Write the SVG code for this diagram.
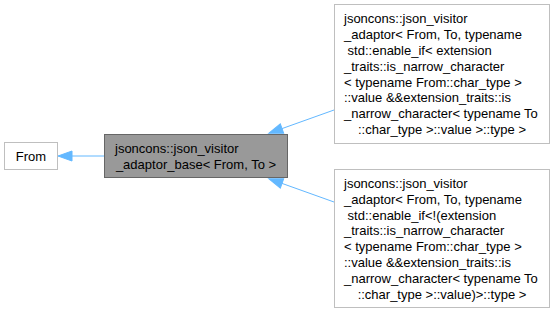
<svg xmlns="http://www.w3.org/2000/svg" width="555" height="312" viewBox="0 0 555 312">
  <style>
    text { font-family: "Liberation Sans", Arial, sans-serif; font-size: 13px; fill: #000; white-space: pre; }
    .box { fill: #ffffff; stroke: #bfbfbf; stroke-width: 1; }
    .cur { fill: #999999; stroke: #666666; stroke-width: 1; }
    .edge { fill: none; stroke: #63b8ff; stroke-width: 1; }
    .mid { text-anchor: middle; }
  </style>
  <defs>
    <marker id="arrow" markerUnits="userSpaceOnUse" markerWidth="16" markerHeight="12" viewBox="0 -6 16 12" refX="0" refY="0" orient="auto" overflow="visible">
      <path d="M0,-5 L14,0 L0,5 Z" fill="#63b8ff" stroke="#63b8ff" stroke-width="1"/>
    </marker>
  </defs>

  <!-- inheritance edges -->
  <g id="edges">
    <path class="edge" d="M104,156 L72,156" marker-end="url(#arrow)"/>
    <path class="edge" d="M334,110 L282,128.6" marker-end="url(#arrow)"/>
    <path class="edge" d="M334,202 L282,183.4" marker-end="url(#arrow)"/>
  </g>

  <g id="node-from">
    <rect class="box" x="4.5" y="142.5" width="53" height="27"/>
    <text class="mid" x="31" y="160.5">From</text>
  </g>

  <g id="node-base">
    <rect class="cur" x="104.5" y="134.5" width="183" height="43"/>
    <text x="115" y="153">jsoncons::json_visitor</text>
    <text class="mid" x="196" y="168.8">_adaptor_base&lt; From, To &gt;</text>
  </g>

  <g id="node-narrow">
    <rect class="box" x="334.5" y="4.5" width="215" height="139"/>
    <text x="344" y="23.4">jsoncons::json_visitor</text>
    <text x="344" y="39.2">_adaptor&lt; From, To, typename</text>
    <text x="344" y="55"> std::enable_if&lt; extension</text>
    <text x="344" y="70.8">_traits::is_narrow_character</text>
    <text x="344" y="86.6">&lt; typename From::char_type &gt;</text>
    <text x="344" y="102.4">::value &amp;&amp;extension_traits::is</text>
    <text x="344" y="118.2">_narrow_character&lt; typename To</text>
    <text class="mid" x="442" y="134">::char_type &gt;::value &gt;::type &gt;</text>
  </g>

  <g id="node-wide">
    <rect class="box" x="334.5" y="169.5" width="215" height="138"/>
    <text x="344" y="187.9">jsoncons::json_visitor</text>
    <text x="344" y="203.7">_adaptor&lt; From, To, typename</text>
    <text x="344" y="219.5"> std::enable_if&lt;!(extension</text>
    <text x="344" y="235.3">_traits::is_narrow_character</text>
    <text x="344" y="251.1">&lt; typename From::char_type &gt;</text>
    <text x="344" y="266.9">::value &amp;&amp;extension_traits::is</text>
    <text x="344" y="282.7">_narrow_character&lt; typename To</text>
    <text class="mid" x="442" y="298.5">::char_type &gt;::value)&gt;::type &gt;</text>
  </g>
</svg>
